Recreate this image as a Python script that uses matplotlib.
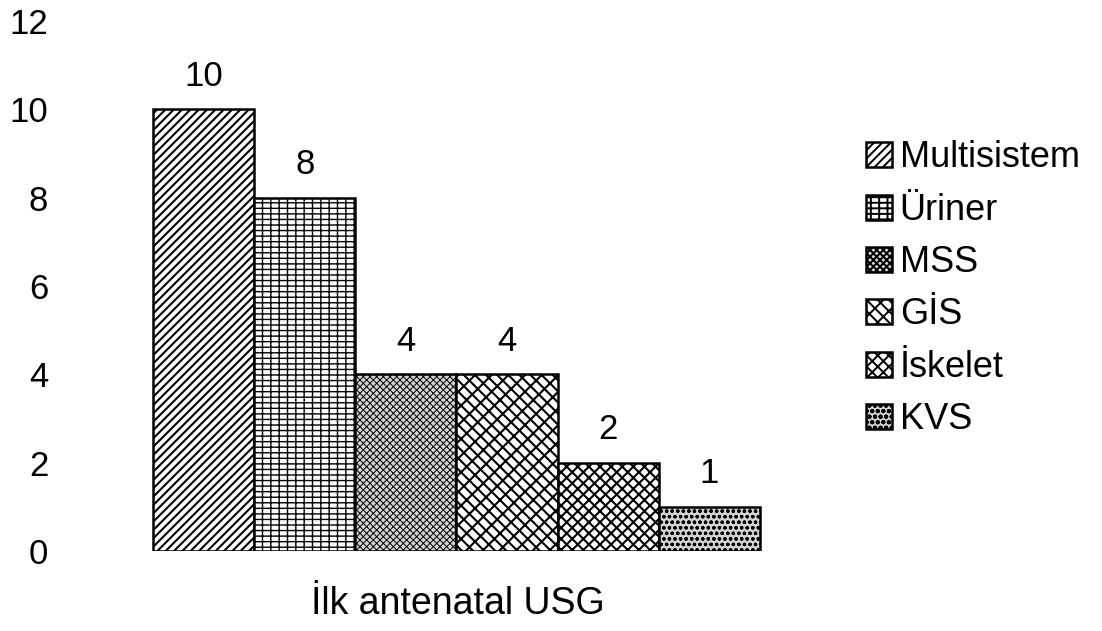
import numpy as np
import matplotlib.pyplot as plt

categories = ["Multisistem", "Üriner", "MSS", "GİS", "İskelet", "KVS"]
values = [10, 8, 4, 4, 2, 1]
hatches = ["////", "---||", "xxxxx", "\\\\\\//", "xxx", "ooo"]
faces = ["white", "white", "#d4d4d4", "white", "white", "#d2d2d2"]
hatch_lw = [1.5, 1.0, 0.7, 1.5, 1.5, 0.9]
yticks = [0, 2, 4, 6, 8, 10, 12]
xlabel = "İlk antenatal USG"

plt.rcParams["font.family"] = ["Liberation Sans", "DejaVu Sans"]
plt.rcParams["hatch.linewidth"] = 1.4

fig = plt.figure(figsize=(11.02, 6.31), dpi=100)
ax = fig.add_axes([60 / 1102, 80 / 631, 795 / 1102, 530 / 631])

x = np.arange(len(values))
bars = ax.bar(x, values, width=1.0, color=faces, edgecolor="black",
              linewidth=1.8, hatch=hatches, label=categories)
for b, lw in zip(bars, hatch_lw):
    if hasattr(b, "set_hatch_linewidth"):
        b.set_hatch_linewidth(lw)
for xi, v in zip(x, values):
    ax.text(xi, v + 0.38, str(v), ha="center", va="bottom", fontsize=25)

ax.set_xlim(-1.419, 6.439)
ax.set_ylim(0, 12)
ax.set_yticks(yticks)
ax.set_xticks([])
ax.tick_params(axis="y", length=0, labelsize=25, pad=8.5)
for s in ax.spines.values():
    s.set_visible(False)
ax.set_xlabel(xlabel, fontsize=27, labelpad=25)

fig.legend(handles=list(bars), labels=categories, loc="upper left",
           bbox_to_anchor=(852 / 1102, 1 - 126 / 631), frameon=False,
           fontsize=26, handlelength=0.7, handleheight=0.7,
           handletextpad=0.22, labelspacing=0.48, borderaxespad=0)

fig.savefig("out.png", dpi=100)
